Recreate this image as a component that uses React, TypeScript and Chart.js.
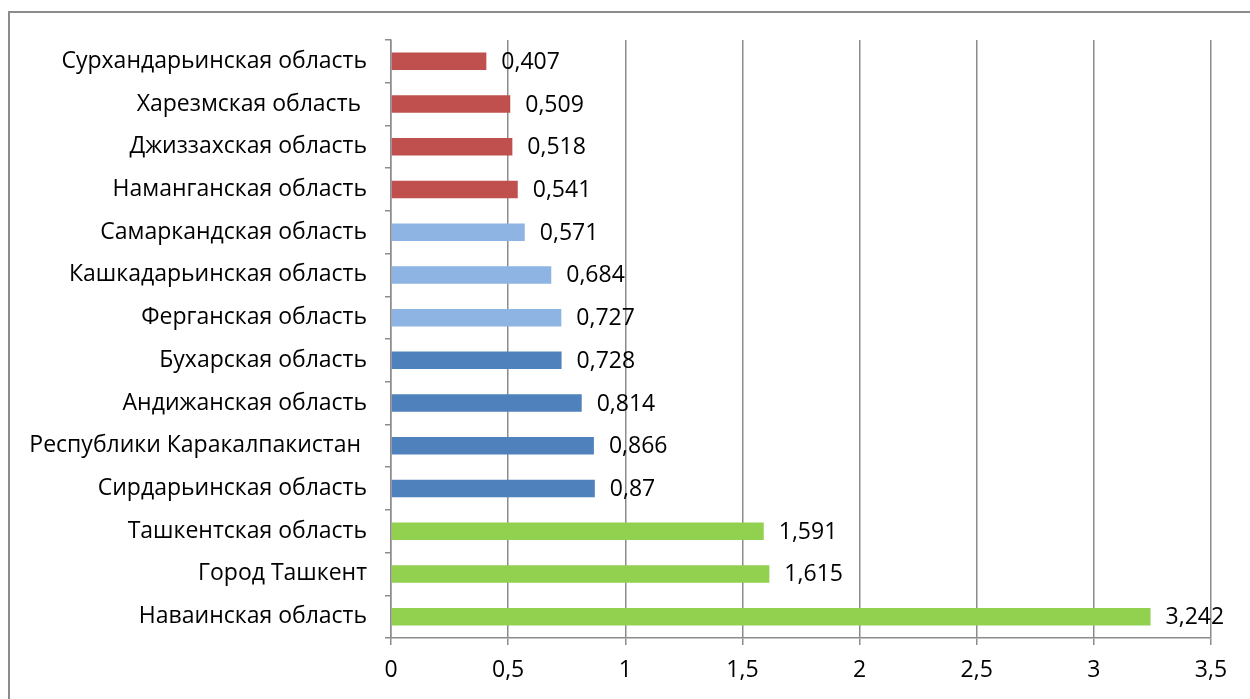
import React, { useEffect, useRef } from "react";
import { Chart, registerables } from "chart.js";

Chart.register(...registerables);

const categories = [
  "Сурхандарьинская область",
  "Харезмская область ",
  "Джиззахская область",
  "Наманганская область",
  "Самаркандская область",
  "Кашкадарьинская область",
  "Ферганская область",
  "Бухарская область",
  "Андижанская область",
  "Республики Каракалпакистан ",
  "Сирдарьинская область",
  "Ташкентская область",
  "Город Ташкент",
  "Наваинская область",
];

const values = [0.407, 0.509, 0.518, 0.541, 0.571, 0.684, 0.727, 0.728, 0.814, 0.866, 0.87, 1.591, 1.615, 3.242];

const barColors = [
  "#C0504D", "#C0504D", "#C0504D", "#C0504D",
  "#8DB4E2", "#8DB4E2", "#8DB4E2",
  "#4F81BD", "#4F81BD", "#4F81BD", "#4F81BD",
  "#92D050", "#92D050", "#92D050",
];

const xTicks = [0, 0.5, 1, 1.5, 2, 2.5, 3, 3.5];

const FONT = "'Open Sans', sans-serif";

const fmt = (v: number) => String(v).replace(".", ",");

const valueLabels = {
  id: "valueLabels",
  afterDatasetsDraw(chart: any) {
    const { ctx } = chart;
    const meta = chart.getDatasetMeta(0);
    ctx.save();
    ctx.font = `23px ${FONT}`;
    ctx.fillStyle = "#000";
    ctx.textAlign = "left";
    ctx.textBaseline = "middle";
    meta.data.forEach((bar: any, i: number) => {
      ctx.fillText(fmt(values[i]), bar.x + 15, bar.y + 1);
    });
    ctx.restore();
  },
};

export default function App() {
  const ref = useRef<HTMLCanvasElement>(null);
  useEffect(() => {
    if (!ref.current) return;
    const chart = new Chart(ref.current, {
      type: "bar",
      data: {
        labels: categories,
        datasets: [
          {
            data: values,
            backgroundColor: barColors,
            barPercentage: 0.41,
            categoryPercentage: 1,
          },
        ],
      },
      options: {
        indexAxis: "y",
        animation: false,
        responsive: false,
        maintainAspectRatio: false,
        layout: { padding: { left: 0, right: 39, top: 40, bottom: 0 } },
        plugins: { legend: { display: false }, tooltip: { enabled: false } },
        scales: {
          x: {
            min: 0,
            max: 3.5,
            afterBuildTicks: (s: any) => {
              s.ticks = xTicks.map((v) => ({ value: v }));
            },
            afterFit: (s: any) => {
              s.height = 61;
            },
            grid: { color: "#8c8c8c", lineWidth: 1.5, tickLength: 7 },
            border: { color: "#8c8c8c", width: 1.5 },
            ticks: {
              color: "#000",
              font: { family: FONT, size: 23 },
              padding: 12,
              maxRotation: 0,
              callback: (v: any) => fmt(Number(v)),
            },
          },
          y: {
            afterFit: (s: any) => {
              s.width = 391;
            },
            grid: { offset: true, drawOnChartArea: false, color: "#8c8c8c", lineWidth: 1.5, tickLength: 6 },
            border: { color: "#8c8c8c", width: 1.5 },
            ticks: {
              color: "#000",
              font: { family: FONT, size: 23 },
              padding: 18,
              autoSkip: false,
            },
          },
        },
      },
      plugins: [valueLabels],
    });
    return () => chart.destroy();
  }, []);

  return (
    <div style={{ position: "fixed", left: 0, top: 0, width: 1250, height: 699, overflow: "hidden", background: "#fff" }}>
      <div
        style={{
          position: "absolute",
          left: 8,
          top: 11,
          width: 1300,
          height: 760,
          border: "2px solid #8c8c8c",
          boxSizing: "border-box",
        }}
      />
      <canvas ref={ref} width={1250} height={699} style={{ position: "absolute", left: 0, top: 0, width: 1250, height: 699 }} />
    </div>
  );
}
